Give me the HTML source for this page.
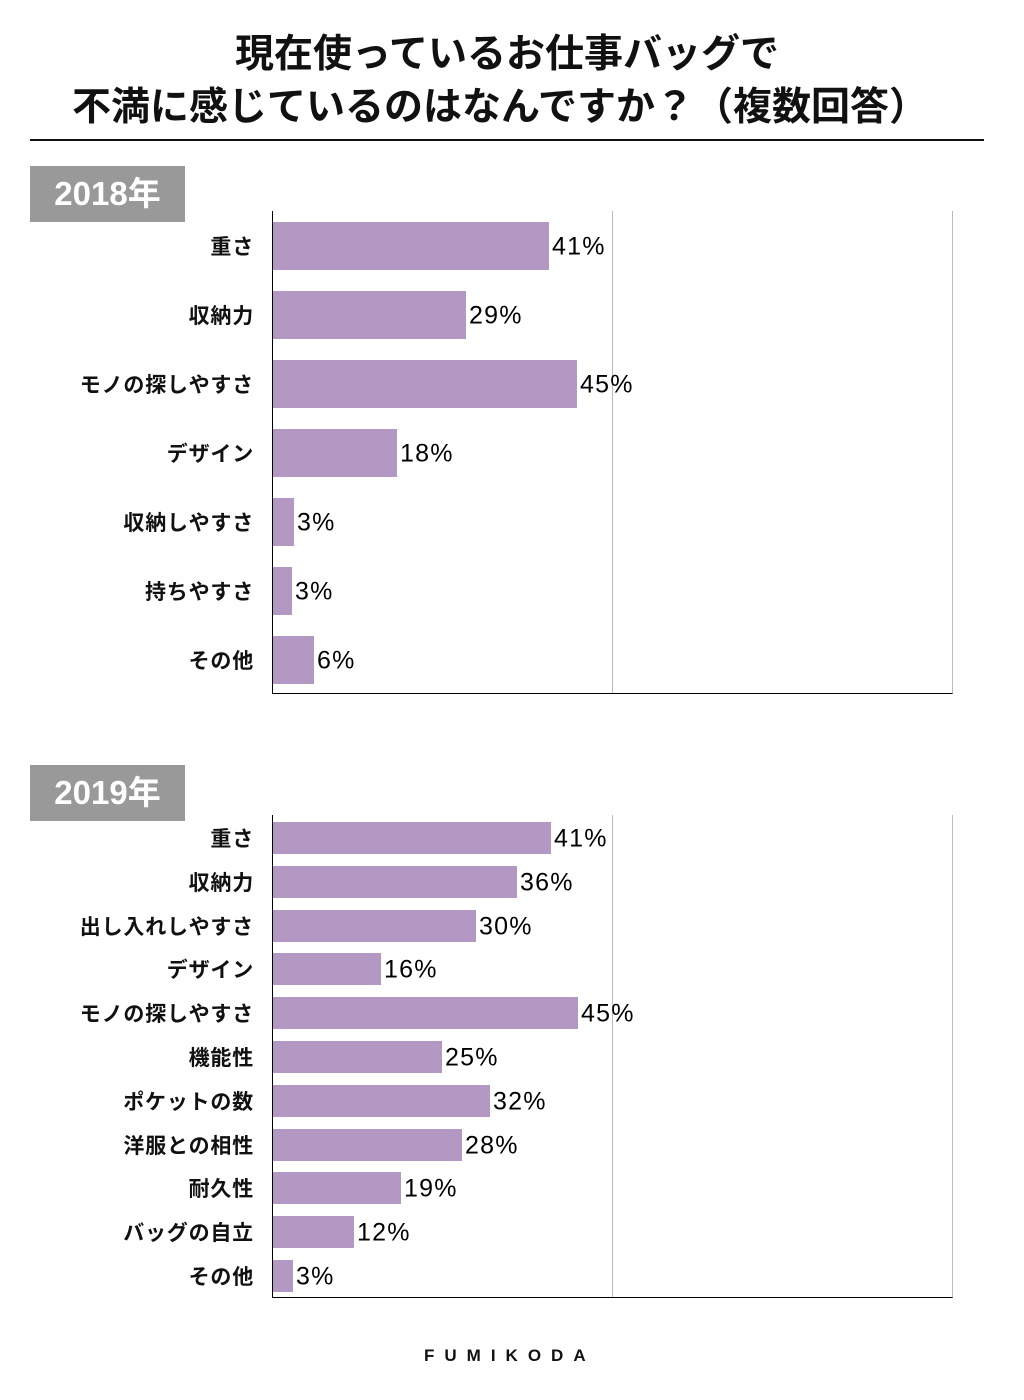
<!DOCTYPE html>
<html><head><meta charset="utf-8"><style>
body{margin:0;width:1024px;height:1400px;background:#fff;position:relative;font-family:"Liberation Sans","Noto Sans CJK JP",sans-serif;overflow:hidden}
.t{position:absolute;left:0;width:1024px;text-align:center;font-size:39px;font-weight:bold;color:#111;white-space:nowrap}
.yr{position:absolute;left:30px;width:155px;height:56px;background:#999;color:#fff;font-size:33px;font-weight:bold;line-height:56px;text-align:center}
.ax{position:absolute;left:272px;width:679px;border-left:1.5px solid #000;border-bottom:1.5px solid #000;border-right:1px solid #bbb}
.g{position:absolute;left:339px;top:0;bottom:0;border-left:1px solid #bbb}
.b{position:absolute;left:273px;background:#b398c3}
.c{position:absolute;right:770px;font-size:21px;letter-spacing:0.8px;font-weight:bold;color:#111;white-space:nowrap;transform:translateY(-50%)}
.v{position:absolute;font-size:25px;letter-spacing:1.2px;color:#000;transform:translateY(-50%);white-space:nowrap}
</style></head><body>
<div class="t" style="top:23px;left:-5px">現在使っているお仕事バッグで</div>
<div class="t" style="top:76px;left:-12px">不満に感じているのはなんですか？（複数回答）</div>
<div style="position:absolute;left:30px;top:139px;width:954px;height:2px;background:#111"></div>

<div class="yr" style="top:166px">2018年</div>
<div class="ax" style="top:211px;height:482px"><div class="g"></div></div>
<div class="yr" style="top:765px">2019年</div>
<div class="ax" style="top:815px;height:482px"><div class="g"></div></div>

<div id="bars"></div>
<div style="position:absolute;left:424px;top:1346px;font-size:17px;font-weight:bold;letter-spacing:10px;color:#111">FUMIKODA</div>
<script>
var d1=[["重さ",549,41],["収納力",466,29],["モノの探しやすさ",577,45],["デザイン",397,18],["収納しやすさ",294,3],["持ちやすさ",292,3],["その他",314,6]];
var d2=[["重さ",551,41],["収納力",517,36],["出し入れしやすさ",476,30],["デザイン",381,16],["モノの探しやすさ",578,45],["機能性",442,25],["ポケットの数",490,32],["洋服との相性",462,28],["耐久性",401,19],["バッグの自立",354,12],["その他",293,3]];
var h="";
d1.forEach(function(r,i){var c=246+69*i;h+='<div class="b" style="top:'+(c-24)+'px;height:48px;width:'+(r[1]-273)+'px"></div><div class="c" style="top:'+c+'px">'+r[0]+'</div><div class="v" style="left:'+(r[1]+3)+'px;top:'+(c+1)+'px">'+r[2]+'%</div>';});
d2.forEach(function(r,i){var c=838+43.8*i;h+='<div class="b" style="top:'+(c-16)+'px;height:32px;width:'+(r[1]-273)+'px"></div><div class="c" style="top:'+c+'px">'+r[0]+'</div><div class="v" style="left:'+(r[1]+3)+'px;top:'+(c+1)+'px">'+r[2]+'%</div>';});
document.getElementById("bars").innerHTML=h;
</script>
</body></html>
